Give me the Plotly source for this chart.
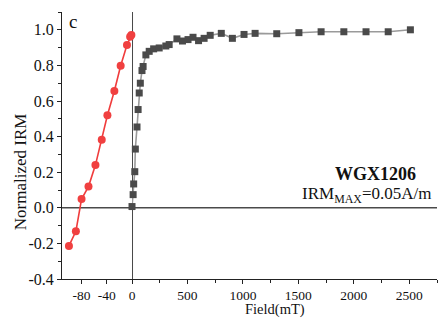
import plotly.graph_objects as go

# Data
red_x = [-100, -89, -80, -69, -58, -48, -39, -28, -18, -8, -3, -1]
red_y = [-0.214, -0.132, 0.049, 0.119, 0.240, 0.382, 0.520, 0.656, 0.798, 0.915, 0.961, 0.971]

gray_x = [0, 10, 15, 25, 30, 45, 55, 65, 75, 90, 100, 125, 155, 195, 245, 305, 335,
          405, 455, 505, 550, 600, 650, 705, 805, 905, 1010, 1110, 1305, 1505, 1705,
          1910, 2110, 2310, 2510]
gray_y = [0.007, 0.074, 0.134, 0.203, 0.33, 0.454, 0.552, 0.645, 0.70, 0.771, 0.794,
          0.859, 0.879, 0.893, 0.898, 0.909, 0.917, 0.949, 0.937, 0.945, 0.958, 0.939,
          0.952, 0.969, 0.980, 0.952, 0.974, 0.980, 0.978, 0.984, 0.989, 0.989, 0.989,
          0.989, 1.0]

neg_ticks = [-80, -40, 0]
neg_ticktext = ["-80", "-40", "0"]
pos_ticks = [500, 1000, 1500, 2000, 2500]
pos_ticktext = ["500", "1000", "1500", "2000", "2500"]
y_ticks = [-0.4, -0.2, 0.0, 0.2, 0.4, 0.6, 0.8, 1.0]
y_ticktext = ["-0.4", "-0.2", "0.0", "0.2", "0.4", "0.6", "0.8", "1.0"]

FONT = "Liberation Serif"
AX = "#222222"
TXT = "#111111"
d1 = 0.1867

fig = go.Figure()
fig.add_trace(go.Scatter(
    x=red_x, y=red_y, xaxis="x", yaxis="y", mode="lines+markers",
    line=dict(color="#f03c3c", width=1.6),
    marker=dict(symbol="circle", size=8, color="#f04040"),
    cliponaxis=False, showlegend=False))
fig.add_trace(go.Scatter(
    x=gray_x, y=gray_y, xaxis="x2", yaxis="y", mode="lines+markers",
    line=dict(color="#9a9a9a", width=1.6),
    marker=dict(symbol="square", size=7, color="#4a4a4a"),
    cliponaxis=False, showlegend=False))

fig.update_layout(
    width=439, height=320,
    margin=dict(l=62, r=2, t=12, b=41, autoexpand=False),
    paper_bgcolor="white", plot_bgcolor="white",
    font=dict(family=FONT, color=TXT, size=14),
    xaxis=dict(domain=[0, d1], range=[-111, 0], anchor="y", automargin=False,
               tickvals=neg_ticks, ticktext=neg_ticktext,
               ticks="outside", ticklen=4, tickcolor=AX,
               showline=True, linecolor=AX, linewidth=1,
               showgrid=False, zeroline=False,
               tickfont=dict(size=13.5, family=FONT)),
    xaxis2=dict(domain=[d1, 1], range=[0, 2750], anchor="y", automargin=False,
                tickvals=pos_ticks, ticktext=pos_ticktext,
                ticks="outside", ticklen=4, tickcolor=AX,
                minor=dict(dtick=250, tick0=0, ticks="outside", ticklen=3, tickcolor=AX),
                showline=True, linecolor=AX, linewidth=1,
                showgrid=False, zeroline=False,
                tickfont=dict(size=13.5, family=FONT)),
    yaxis=dict(domain=[0, 1], range=[-0.4, 1.1], anchor="x", automargin=False,
               tickvals=y_ticks, ticktext=y_ticktext,
               ticks="outside", ticklen=4, tickcolor=AX,
               minor=dict(dtick=0.1, tick0=0, ticks="outside", ticklen=3, tickcolor=AX),
               showline=True, linecolor=AX, linewidth=1,
               showgrid=False, zeroline=False,
               tickfont=dict(size=16, family=FONT)),
    shapes=[
        dict(type="line", xref="paper", yref="y", x0=0, x1=1, y0=0, y1=0,
             line=dict(color="#4a4a4a", width=1.5), layer="below"),
        dict(type="line", xref="x2", yref="paper", x0=0, x1=0, y0=0, y1=1,
             line=dict(color="#4a4a4a", width=2), layer="below"),
    ],
    annotations=[
        dict(text="Normalized IRM", xref="paper", yref="paper", x=-0.112, y=0.40,
             xanchor="center", yanchor="middle", textangle=-90, showarrow=False,
             font=dict(size=17, family=FONT, color=TXT)),
        dict(text="Field(mT)", xref="paper", yref="paper", x=0.568, y=-0.1517,
             xanchor="center", yanchor="bottom", showarrow=False,
             font=dict(size=14.5, family=FONT, color=TXT)),
        dict(text="c", xref="paper", yref="paper", x=0.029, y=0.965,
             xanchor="center", yanchor="middle", showarrow=False,
             font=dict(size=19, family=FONT, color=TXT)),
        dict(text="<b>WGX1206</b>", xref="paper", yref="paper", x=0.949, y=0.392,
             xanchor="right", yanchor="middle", showarrow=False,
             font=dict(size=18, family=FONT, color=TXT)),
        dict(text="IRM<sub>MAX</sub>=0.05A/m", xref="paper", yref="paper", x=0.989, y=0.315,
             xanchor="right", yanchor="middle", showarrow=False,
             font=dict(size=17, family=FONT, color=TXT)),
    ],
)

fig.write_html("out.html", config={"displayModeBar": False},
               post_script="document.body.style.margin='0px';")
